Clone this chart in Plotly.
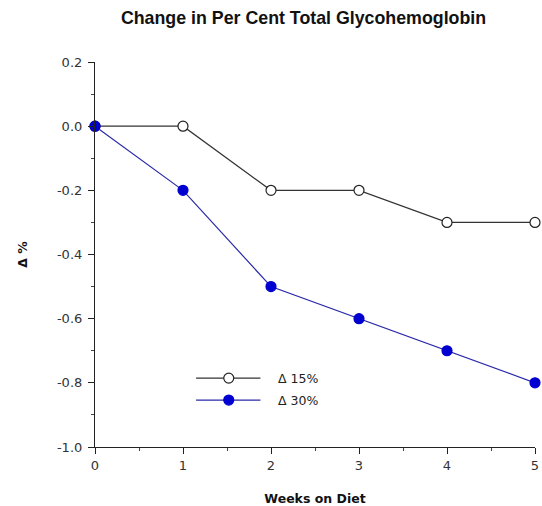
import plotly.graph_objects as go

weeks = [0, 1, 2, 3, 4, 5]
delta15 = [0.0, 0.0, -0.2, -0.2, -0.3, -0.3]
delta30 = [0.0, -0.2, -0.5, -0.6, -0.7, -0.8]
names = ["Δ 15%", "Δ 30%"]
ytick_vals = [0.2, 0.0, -0.2, -0.4, -0.6, -0.8, -1.0]
ytick_text = ["0.2", "0.0", "-0.2", "-0.4", "-0.6", "-0.8", "-1.0"]

colors = ["#333333", "#2a2aa8"]
mfill = ["white", "#0000d0"]
mline = ["#222222", "#0000d0"]

fig = go.Figure()
for ys, nm, c, mf, ml in zip([delta15, delta30], names, colors, mfill, mline):
    fig.add_trace(go.Scatter(
        x=weeks, y=ys, name=nm, mode="lines+markers", cliponaxis=False,
        line=dict(color=c, width=1.2),
        marker=dict(symbol="circle", size=10, color=mf, line=dict(color=ml, width=1.2)),
        showlegend=False,
    ))

# manual legend (paper coordinates)
leg_x0, leg_x1, leg_mx, leg_tx = 0.2297, 0.376, 0.304, 0.412
leg_y = [0.179, 0.122]
for i in range(2):
    fig.add_shape(type="line", xref="paper", yref="paper", x0=leg_x0, x1=leg_x1,
                  y0=leg_y[i], y1=leg_y[i], line=dict(color=colors[i], width=1.2))
    fig.add_shape(type="circle", xref="paper", yref="paper", xsizemode="pixel", ysizemode="pixel",
                  xanchor=leg_mx, yanchor=leg_y[i], x0=-5, x1=5, y0=-5, y1=5,
                  fillcolor=mfill[i], line=dict(color=mline[i], width=1.2))
    fig.add_annotation(text=names[i], xref="paper", yref="paper", x=leg_tx, y=leg_y[i],
                       xanchor="left", yanchor="middle", showarrow=False,
                       font=dict(family="DejaVu Sans", size=12.5, color="#222222"))

fig.update_layout(
    width=542, height=506,
    margin=dict(l=95, r=3, t=62, b=59),
    paper_bgcolor="white", plot_bgcolor="white",
    font=dict(family="DejaVu Sans, sans-serif", size=12, color="#222222"),
    title=dict(text="<b>Change in Per Cent Total Glycohemoglobin</b>", x=0.56, xanchor="center",
               y=0.965, yanchor="middle",
               font=dict(family="Liberation Sans, Arial, sans-serif", size=17.8, color="#111111")),
    showlegend=False,
)
fig.update_xaxes(
    range=[0, 5], tickmode="array", tickvals=weeks, ticktext=[str(w) for w in weeks],
    showgrid=False, zeroline=False, showline=True, linecolor="#222222", linewidth=1.2,
    ticks="outside", ticklen=6, tickcolor="#222222",
    minor=dict(dtick=0.5, tick0=0, ticks="outside", ticklen=3, tickcolor="#444444", showgrid=False),
    title=dict(text="<b>Weeks on Diet</b>", font=dict(family="DejaVu Sans", size=12.5, color="#111111"),
               standoff=22),
    tickfont=dict(family="DejaVu Sans", size=13, color="#333333"),
    ticklabeloverflow="allow",
)
fig.update_yaxes(
    range=[-1.0, 0.2], tickmode="array", tickvals=ytick_vals, ticktext=ytick_text,
    showgrid=False, zeroline=False, showline=True, linecolor="#222222", linewidth=1.2,
    ticks="outside", ticklen=6, tickcolor="#222222",
    minor=dict(dtick=0.1, tick0=0, ticks="outside", ticklen=3, tickcolor="#444444", showgrid=False),
    title=dict(text="<b>Δ %</b>", font=dict(family="DejaVu Sans", size=12.5, color="#111111"),
               standoff=26),
    tickfont=dict(family="DejaVu Sans", size=13, color="#333333"),
    ticklabelstandoff=3,
)

fig.write_html("out.html", config={"displayModeBar": False},
               post_script="document.body.style.margin='0';document.body.style.overflow='hidden';")
